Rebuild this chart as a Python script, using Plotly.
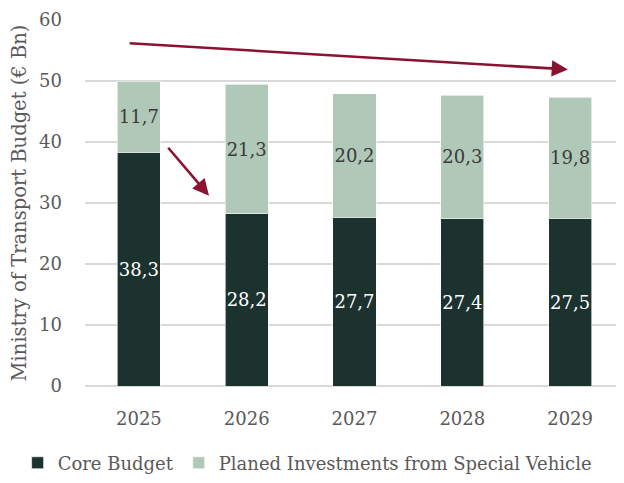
import plotly.graph_objects as go

years = ["2025", "2026", "2027", "2028", "2029"]
core_budget = [38.3, 28.2, 27.7, 27.4, 27.5]
special_vehicle = [11.7, 21.3, 20.2, 20.3, 19.8]
core_labels = ["38,3", "28,2", "27,7", "27,4", "27,5"]
special_labels = ["11,7", "21,3", "20,2", "20,3", "19,8"]

FONT = "DejaVu Serif"
DARK = "#1c322f"
LIGHT = "#b0c8b8"
RED = "#8b1230"
GREY = "#595959"

fig = go.Figure()
fig.add_trace(go.Bar(
    x=years, y=core_budget, name="Core Budget",
    marker=dict(color=DARK, line=dict(color="#ffffff", width=0.6)),
    text=core_labels, textposition="inside", insidetextanchor="middle",
    textangle=0, constraintext="none",
    textfont=dict(family=FONT, size=18, color="#ffffff"),
    hoverinfo="skip",
))
fig.add_trace(go.Bar(
    x=years, y=special_vehicle, name="Planed Investments from Special Vehicle",
    marker=dict(color=LIGHT, line=dict(color="#ffffff", width=0.6)),
    text=special_labels, textposition="inside", insidetextanchor="middle",
    textangle=0, constraintext="none",
    textfont=dict(family=FONT, size=18, color="#3a3a3a"),
    hoverinfo="skip",
))

# Trend arrows
fig.add_annotation(x=3.98, y=51.9, ax=-0.1, ay=56.2, xref="x", yref="y",
                   axref="x", ayref="y", showarrow=True, arrowhead=2,
                   arrowsize=1.25, arrowwidth=2.6, arrowcolor=RED, text="")
fig.add_annotation(x=0.65, y=31.2, ax=0.26, ay=39.3, xref="x", yref="y",
                   axref="x", ayref="y", showarrow=True, arrowhead=2,
                   arrowsize=1.25, arrowwidth=2.6, arrowcolor=RED, text="")

# Page body has an 8px margin, so the figure is sized to end at the window edge
fig.update_layout(
    width=616, height=475,
    barmode="stack", bargap=0.6,
    plot_bgcolor="#ffffff", paper_bgcolor="#ffffff",
    margin=dict(l=77, r=0, t=12, b=97, autoexpand=False),
    font=dict(family=FONT, size=18, color=GREY),
    showlegend=True,
    legend=dict(orientation="h", traceorder="normal",
                x=-0.125, xanchor="left", y=-0.16, yanchor="top",
                font=dict(family=FONT, size=18, color=GREY),
                itemwidth=30, tracegroupgap=0),
    xaxis=dict(type="category", showgrid=False, showline=False,
               ticks="", ticklabelstandoff=20, automargin=False,
               tickfont=dict(family=FONT, size=18, color=GREY)),
    yaxis=dict(range=[0, 60], dtick=10, showgrid=True, gridcolor="#d9d9d9",
               gridwidth=1.5, zeroline=True, zerolinecolor="#d9d9d9",
               zerolinewidth=1.5, ticks="", ticklabelstandoff=22,
               ticklabeloverflow="allow",
               automargin=False,
               tickfont=dict(family=FONT, size=18, color=GREY),
               title=dict(text="Ministry of Transport Budget (€ Bn)",
                          font=dict(family=FONT, size=19.5, color=GREY),
                          standoff=8)),
)

fig.write_html("out.html")
